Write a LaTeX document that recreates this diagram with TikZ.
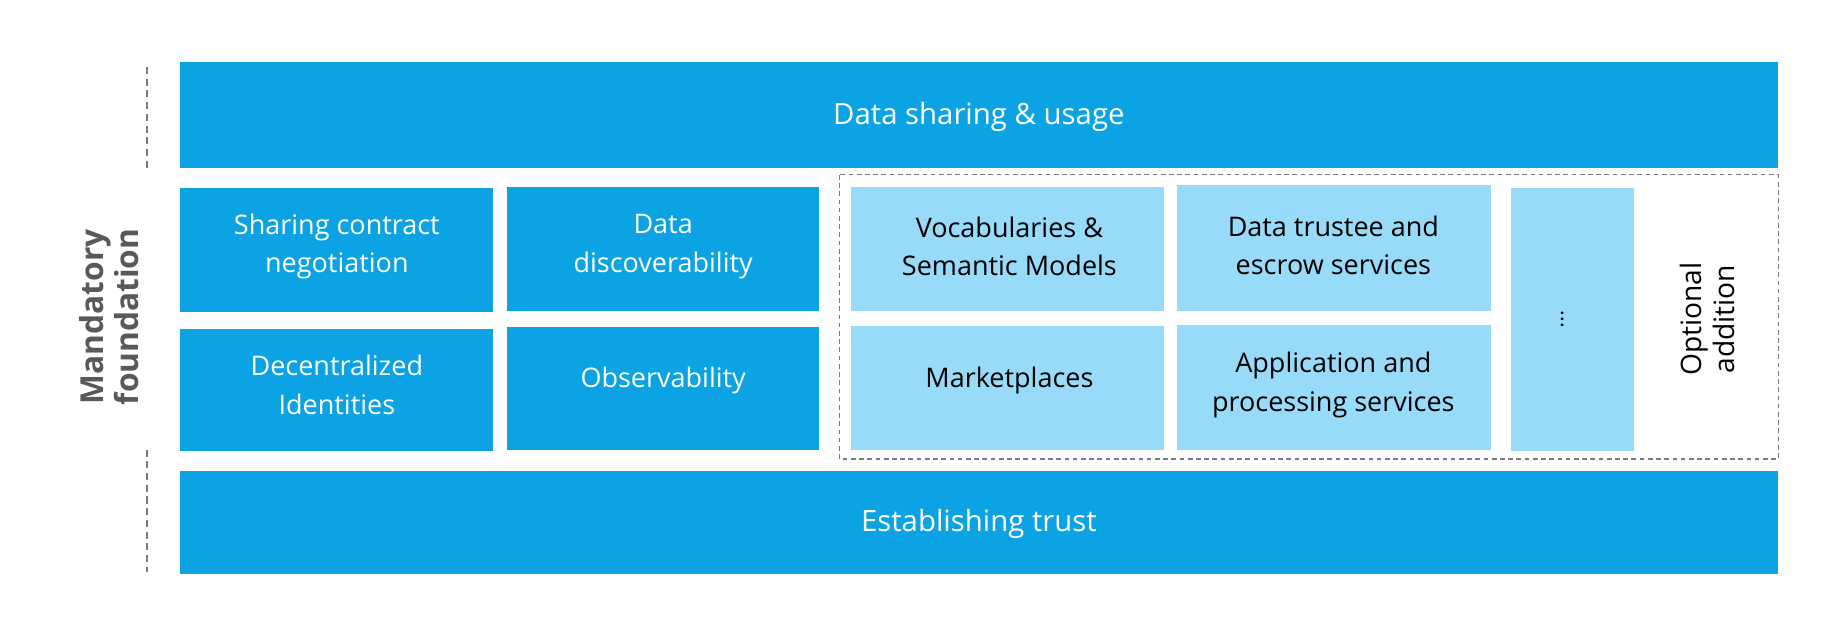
\documentclass[tikz,border=0pt]{standalone}
\usepackage{fontspec}
\setmainfont{Open Sans}
\usetikzlibrary{positioning}
\definecolor{darkblue}{RGB}{11,163,227}
\definecolor{lightblue}{RGB}{151,219,249}
\definecolor{labelgray}{RGB}{89,89,89}
\begin{document}
\begin{tikzpicture}[x=1pt,y=1pt,yscale=-1,
  layer/.style={fill=darkblue,text=white,font=\fontsize{25}{30}\selectfont,align=center},
  tile/.style={fill=darkblue,text=white,font=\fontsize{23}{33}\selectfont,align=center},
  optile/.style={fill=lightblue,text=black,font=\fontsize{23}{33}\selectfont,align=center},
  dashed gray/.style={draw=labelgray!80,line width=1.5pt,dash pattern=on 6pt off 4pt}]
\useasboundingbox (0,0) rectangle (1560,530);

% layers
\path[layer] (153,53) rectangle (1515,143);
\node[text=white,font=\fontsize{25}{30}\selectfont] (usage) at (834,100) {Data sharing \& usage};
\path[layer] (153,401) rectangle (1515,489);
\node[text=white,font=\fontsize{25}{30}\selectfont] (trust) at (834,446) {Establishing trust};

% mandatory tiles
\path[tile] (153,160) rectangle (420,266);
\node[tile,fill=none] (contract) at (287,210) {Sharing contract\\negotiation};
\path[tile] (432,159) rectangle (698,265);
\node[tile,fill=none] (discover) at (565,210) {Data\\discoverability};
\path[tile] (153,280) rectangle (420,384);
\node[tile,fill=none] (ident) at (287,328) {Decentralized\\Identities};
\path[tile] (432,279) rectangle (698,383);
\node[tile,fill=none] (observe) at (565,324) {Observability};

% optional tiles
\path[optile] (725,159) rectangle (992,265);
\node[optile,fill=none] (vocab) at (860,210) {Vocabularies \&\\Semantic Models};
\path[optile] (1003,158) rectangle (1270,265);
\node[optile,fill=none] (trustee) at (1136,209) {Data trustee and\\escrow services};
\path[optile] (725,278) rectangle (992,383);
\node[optile,fill=none] (market) at (860,324) {Marketplaces};
\path[optile] (1003,277) rectangle (1270,383);
\node[optile,fill=none] (apps) at (1136,328) {Application and\\processing services};
\path[optile] (1287,160) rectangle (1392,384);
\node[rotate=-90,font=\fontsize{18}{20}\selectfont] (more) at (1331,272) {...};

% frames
\draw[dashed gray,line width=1pt,dash pattern=on 4pt off 3pt] (715,149) rectangle (1515,391);
\node[rotate=90,font=\fontsize{24}{28}\selectfont,align=center] (optional) at (1455,272) {Optional\\addition};
\draw[dashed gray] (125,57) -- (125,145);
\draw[dashed gray] (125,383) -- (125,487);
\node[rotate=90,text=labelgray,font=\bfseries\fontsize{27}{30}\selectfont,align=center] (mandatory) at (93,270) {Mandatory\\foundation};
\end{tikzpicture}
\end{document}
